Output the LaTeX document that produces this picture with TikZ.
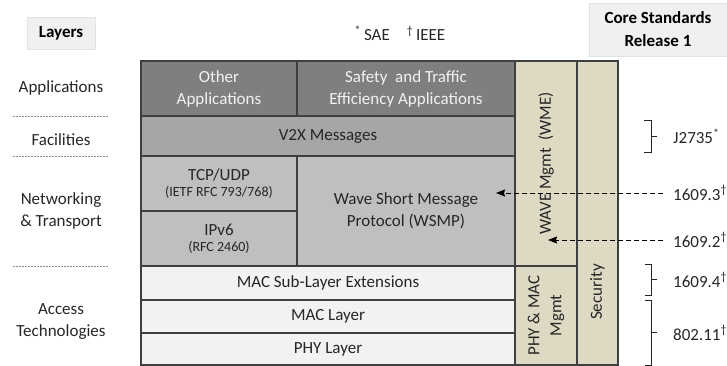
\documentclass[tikz,border=0pt]{standalone}
\usepackage{fontspec}
\setmainfont{Carlito}
\usetikzlibrary{arrows.meta}
\definecolor{appdark}{HTML}{7F7F7F}
\definecolor{facgray}{HTML}{A6A6A6}
\definecolor{netgray}{HTML}{BFBFBF}
\definecolor{accgray}{HTML}{F2F2F2}
\definecolor{mgmt}{HTML}{DDD9C3}
\definecolor{boxline}{HTML}{3F3F3F}
\definecolor{darktext}{HTML}{262626}
\definecolor{lighttext}{HTML}{F2F2F2}
\definecolor{headfill}{HTML}{F0F0F0}
\definecolor{headline}{HTML}{E3E3E3}
\definecolor{sepgray}{HTML}{8C8C8C}
\begin{document}
\begin{tikzpicture}[x=1pt,y=-1pt,font=\fontsize{17}{22}\selectfont]
      \tikzstyle{layer}=[draw=boxline,line width=1.2pt,inner sep=0pt,outer sep=0pt,align=center,text=darktext]
      \tikzstyle{side}=[align=center,text=darktext]
      \tikzstyle{head}=[fill=headfill,draw=headline,align=center,text=black,font=\fontsize{17}{23}\selectfont\bfseries]
      \tikzstyle{sep}=[draw=sepgray,line width=0.6pt,dash pattern=on 2pt off 1pt]
      \tikzstyle{std}=[anchor=west,inner sep=0pt,text=darktext]
      \tikzstyle{dasharrow}=[draw,line width=0.9pt,dash pattern=on 5pt off 3pt,-{Stealth[length=9pt,width=7pt,inset=1pt]},shorten <=10pt]
      \tikzstyle{bracket}=[draw=darktext,line width=0.9pt]
      \useasboundingbox (0,0) rectangle (727,366);
      \node[head,minimum width=68pt,minimum height=32pt] (layers) at (61,33) {Layers};
      \node[head,minimum width=138pt,minimum height=53pt] (core) at (658,29.5) {Core Standards\\Release 1};
      \node[text=darktext] (legend) at (400,33) {\textsuperscript{*}\,SAE\quad\textsuperscript{\textdagger}\,IEEE};
      \node[side] (applbl) at (61,88) {Applications};
      \node[side] (faclbl) at (61,140) {Facilities};
      \node[side] (netlbl) at (61,211) {Networking\\\& Transport};
      \node[side] (acclbl) at (61,322) {Access\\Technologies};
      \path[sep] (13,116) -- (108,116);
      \path[sep] (13,156) -- (108,156);
      \path[sep] (13,266) -- (108,266);
      \node[layer,fill=appdark,text=lighttext,minimum width=156pt,minimum height=55pt] (other) at (219,88.5) {Other\\Applications};
      \node[layer,fill=appdark,text=lighttext,minimum width=218pt,minimum height=55pt] (safety) at (406,88.5) {Safety\ \ and Traffic\\Efficiency Applications};
      \node[layer,fill=facgray,minimum width=374pt,minimum height=40pt] (v2x) at (328,136) {V2X Messages};
      \node[layer,fill=netgray,minimum width=156pt,minimum height=55pt] (tcp) at (219,183.5) {TCP/UDP\\[-6pt]{\fontsize{14}{16}\selectfont (IETF RFC 793/768)}};
      \node[layer,fill=netgray,minimum width=156pt,minimum height=55pt] (ipv6) at (219,238.5) {IPv6\\[-6pt]{\fontsize{14}{16}\selectfont (RFC 2460)}};
      \node[layer,fill=netgray,minimum width=218pt,minimum height=110pt] (wsmp) at (406,211) {Wave Short Message\\Protocol (WSMP)};
      \node[layer,fill=accgray,minimum width=374pt,minimum height=34pt] (macsub) at (328,283) {MAC Sub-Layer Extensions};
      \node[layer,fill=accgray,minimum width=374pt,minimum height=33pt] (mac) at (328,316.5) {MAC Layer};
      \node[layer,fill=accgray,minimum width=374pt,minimum height=32pt] (phy) at (328,349) {PHY Layer};
      \node[layer,fill=mgmt,rotate=90,minimum width=205pt,minimum height=62pt] (wme) at (546,163.5) {WAVE Mgmt\ \ (WME)};
      \node[layer,fill=mgmt,rotate=90,minimum width=99pt,minimum height=62pt] (phymac) at (546,315.5) {PHY \& MAC\\Mgmt};
      \node[layer,fill=mgmt,minimum width=41pt,minimum height=304pt] (security) at (597.5,213) {};
      \node[rotate=90,text=darktext] (sectext) at (597.5,292) {Security};
      \node[std] (j2735) at (673,136) {J2735\textsuperscript{*}};
      \node[std] (s3) at (673,193) {1609.3\textsuperscript{\textdagger}};
      \node[std] (s2) at (673,240) {1609.2\textsuperscript{\textdagger}};
      \node[std] (s4) at (673,280) {1609.4\textsuperscript{\textdagger}};
      \node[std] (s11) at (673,333) {802.11\textsuperscript{\textdagger}};
      \coordinate (wsmptip) at (496,193);
      \coordinate (wmetip) at (548,240);
      \path[dasharrow] (s3.west) -- (wsmptip);
      \path[dasharrow] (s2.west) -- (wmetip);
      \path[bracket] (644,120) -- (651,120) -- (651,152) -- (644,152) (651,136) -- (657,136);
      \path[bracket] (645,264) -- (651,264) -- (651,295) -- (645,295) (651,279.5) -- (657,279.5);
      \path[bracket] (645,300) -- (651,300) -- (651,365) -- (645,365) (651,332.5) -- (657,332.5);
    \end{tikzpicture}
\end{document}
